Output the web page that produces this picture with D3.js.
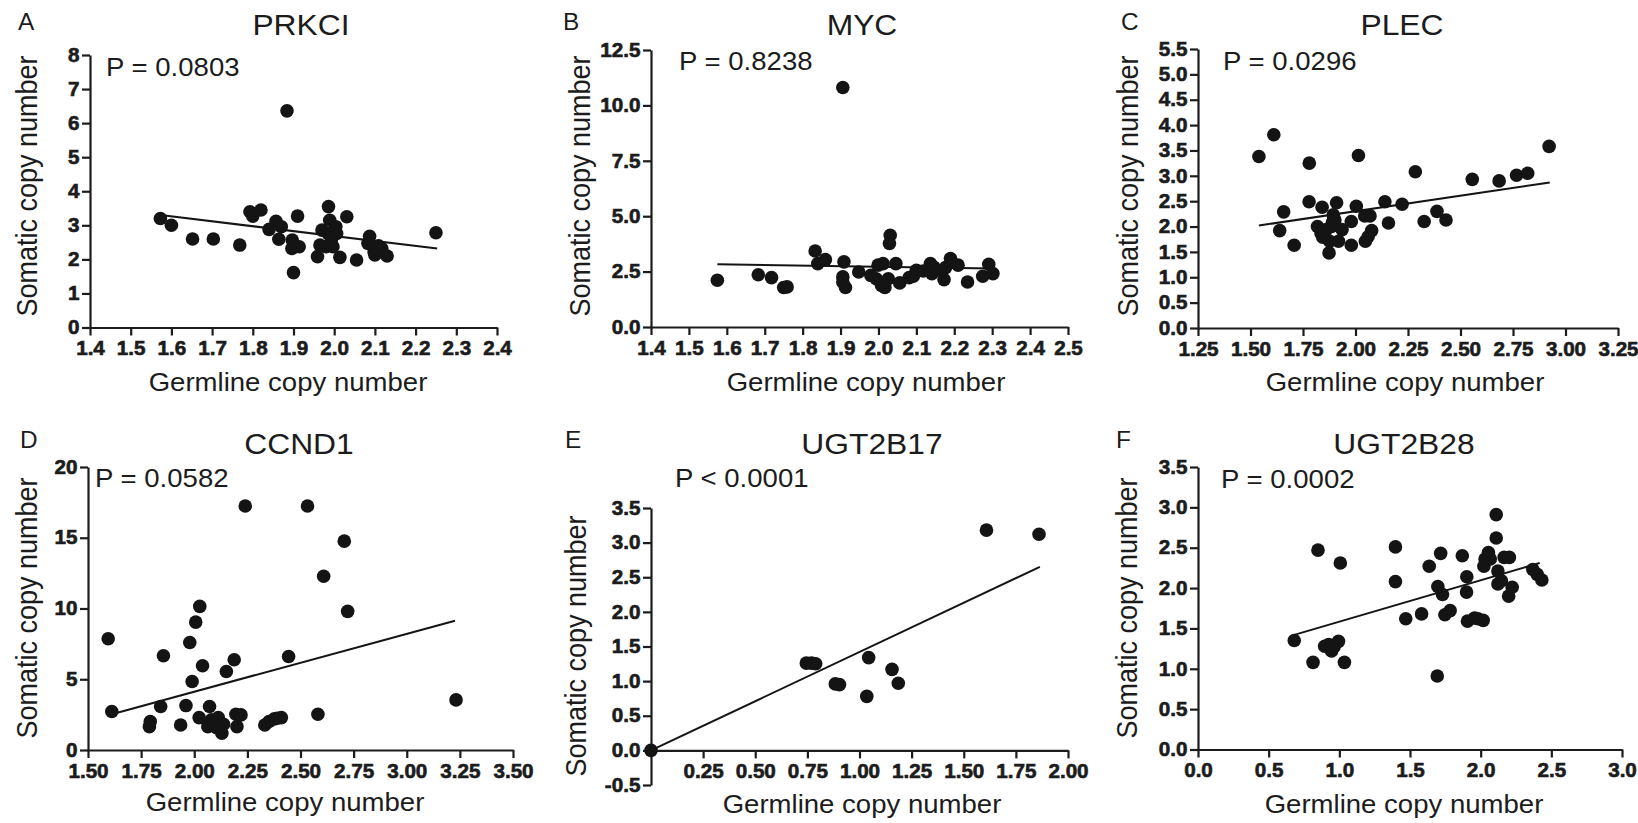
<!DOCTYPE html>
<html>
<head>
<meta charset="utf-8">
<title>Germline vs somatic copy number</title>
<script src="https://cdn.jsdelivr.net/npm/d3@7"></script>
<style>
  html, body { margin: 0; padding: 0; background: #ffffff; }
  svg { display: block; }
  text { font-family: "Liberation Sans", Arial, Helvetica, sans-serif; fill: #1c1c1c; }
  .domain, .tick line { stroke: #1c1c1c; stroke-width: 2.2px; }
</style>
</head>
<body>
<svg id="fig" width="1638" height="823"></svg>
<script>
// Gene panels: [germline copy number, somatic copy number] per sample
const prkci = [
  [1.573,3.20],[1.600,3.00],[1.652,2.60],[1.703,2.60],[1.768,2.42],[1.793,3.40],[1.800,3.27],[1.820,3.45],
  [1.840,2.88],[1.857,3.12],[1.870,2.96],[1.864,2.59],[1.884,6.36],[1.897,2.57],[1.896,2.32],[1.910,3.27],
  [1.914,2.37],[1.900,1.61],[1.959,2.08],[1.965,2.42],[1.970,2.86],[1.986,3.55],[1.989,3.15],[1.985,2.76],
  [1.997,2.37],[1.993,2.57],[2.006,2.76],[2.004,2.96],[2.014,2.06],[2.031,3.25],[2.055,1.98],[2.087,2.68],
  [2.083,2.47],[2.098,2.22],[2.117,2.32],[2.130,2.10],[2.250,2.78],[2.109,2.40],[1.980,2.37],[2.100,2.13]
];
const myc = [
  [1.575,2.11],[1.683,2.36],[1.718,2.23],[1.750,1.78],[1.759,1.81],[1.833,3.43],[1.840,2.86],[1.860,3.04],
  [1.909,2.94],[1.906,2.26],[1.906,2.03],[1.913,1.78],[1.906,10.81],[1.948,2.48],[1.980,2.33],[1.994,2.18],
  [1.999,2.79],[2.012,2.86],[2.008,1.88],[2.017,1.78],[2.026,2.18],[2.031,4.14],[2.029,3.77],[2.046,2.86],
  [2.056,1.99],[2.081,2.23],[2.092,2.29],[2.100,2.56],[2.118,2.53],[2.137,2.86],[2.141,2.41],[2.146,2.71],
  [2.173,2.14],[2.177,2.68],[2.190,3.09],[2.210,2.79],[2.235,2.03],[2.275,2.29],[2.291,2.83],[2.302,2.41],
  [2.155,2.56]
];
const plec = [
  [1.540,3.38],[1.611,3.81],[1.639,1.92],[1.658,2.29],[1.708,1.63],[1.780,3.25],[1.779,2.49],[1.819,2.00],
  [1.841,2.38],[1.836,1.87],[1.844,1.79],[1.861,1.94],[1.874,1.48],[1.877,1.71],[1.890,2.08],[1.902,2.13],
  [1.910,2.47],[1.919,1.71],[1.936,1.94],[1.980,1.63],[1.980,2.10],[2.004,2.40],[2.014,3.40],[2.044,2.21],
  [2.069,2.21],[2.047,1.71],[2.060,1.80],[2.077,1.92],[2.140,2.49],[2.157,2.07],[2.222,2.44],[2.285,3.08],
  [2.327,2.10],[2.388,2.30],[2.431,2.13],[2.556,2.93],[2.684,2.90],[2.767,3.01],[2.820,3.05],[2.922,3.58],
  [1.886,2.00],[1.894,2.23]
];
const ccnd1 = [
  [1.595,7.86],[1.612,2.72],[1.793,2.01],[1.789,1.65],[1.842,3.07],[1.855,6.66],[1.936,1.77],[1.961,3.14],
  [1.979,7.60],[1.990,4.84],[2.007,9.04],[2.026,10.15],[2.023,2.29],[2.039,5.95],[2.072,3.07],[2.064,1.65],
  [2.081,2.13],[2.092,1.89],[2.113,2.29],[2.122,1.65],[2.130,1.18],[2.138,1.82],[2.151,5.55],[2.188,6.38],
  [2.196,2.53],[2.201,1.65],[2.220,2.48],[2.240,17.24],[2.332,1.77],[2.352,2.01],[2.377,2.20],[2.410,2.29],
  [2.444,6.61],[2.533,17.24],[2.582,2.53],[2.609,12.28],[2.706,14.76],[2.722,9.80],[3.232,3.54],[2.105,1.58],
  [2.390,2.24]
];
const ugt2b17 = [
  [0.000,0.00],[0.745,1.26],[0.770,1.26],[0.790,1.25],[0.884,0.96],[0.904,0.95],[1.044,1.34],[1.035,0.78],
  [1.156,1.17],[1.186,0.97],[1.609,3.18],[1.861,3.12]
];
const ugt2b28 = [
  [0.681,1.35],[0.814,1.08],[0.849,2.47],[0.896,1.28],[0.925,1.30],[0.945,1.22],[0.962,1.27],[0.994,1.34],
  [1.007,2.31],[1.036,1.08],[1.397,2.51],[1.397,2.08],[1.470,1.62],[1.582,1.68],[1.636,2.27],[1.693,0.91],
  [1.697,2.02],[1.717,2.43],[1.730,1.92],[1.747,1.67],[1.784,1.72],[1.870,2.40],[1.902,2.14],[1.900,1.95],
  [1.907,1.59],[1.957,1.63],[1.981,1.62],[2.018,1.60],[2.023,2.27],[2.031,2.36],[2.055,2.44],[2.068,2.36],
  [2.110,2.91],[2.110,2.62],[2.122,2.21],[2.122,2.05],[2.147,2.09],[2.166,2.38],[2.203,2.38],[2.198,1.90],
  [2.223,2.01],[2.369,2.23],[2.400,2.17],[2.433,2.10]
];

// Linear fit end points [germline, somatic]
const prkciFit   = [[1.573,3.30],[2.253,2.32]];
const mycFit     = [[1.575,2.83],[2.300,2.64]];
const plecFit    = [[1.540,2.02],[2.925,2.87]];
const ccnd1Fit   = [[1.612,2.53],[3.227,9.14]];
const ugt2b17Fit = [[0.000,0.00],[1.865,2.65]];
const ugt2b28Fit = [[0.681,1.42],[2.418,2.31]];

// Tick values
const prkciXTicks   = [1.4,1.5,1.6,1.7,1.8,1.9,2.0,2.1,2.2,2.3,2.4];
const prkciYTicks   = [0,1,2,3,4,5,6,7,8];
const mycXTicks     = [1.4,1.5,1.6,1.7,1.8,1.9,2.0,2.1,2.2,2.3,2.4,2.5];
const mycYTicks     = [0,2.5,5,7.5,10,12.5];
const plecXTicks    = [1.25,1.5,1.75,2.0,2.25,2.5,2.75,3.0,3.25];
const plecYTicks    = [0,0.5,1,1.5,2,2.5,3,3.5,4,4.5,5,5.5];
const ccnd1XTicks   = [1.5,1.75,2.0,2.25,2.5,2.75,3.0,3.25,3.5];
const ccnd1YTicks   = [0,5,10,15,20];
const ugt2b17XTicks = [0.25,0.5,0.75,1.0,1.25,1.5,1.75,2.0];
const ugt2b17YTicks = [-0.5,0,0.5,1,1.5,2,2.5,3,3.5];
const ugt2b28XTicks = [0,0.5,1,1.5,2,2.5,3];
const ugt2b28YTicks = [0,0.5,1,1.5,2,2.5,3,3.5];

// Panel headings
const panelLetters = ["A","B","C","D","E","F"];
const geneNames    = ["PRKCI","MYC","PLEC","CCND1","UGT2B17","UGT2B28"];
const pValues      = ["P = 0.0803","P = 0.8238","P = 0.0296","P = 0.0582","P < 0.0001","P = 0.0002"];
const xAxisTitle   = "Germline copy number";
const yAxisTitle   = "Somatic copy number";

// Layout of each panel (pixel frame and text anchors)
const layout = [
  { xr:[90,497],    yr:[327.5,55], letter:[18,30],    title:[301,35],   p:[106,76],   ylab:[37,186],   xlab:[288,391] },
  { xr:[651,1068],  yr:[327,50],   letter:[563,30],   title:[862,35],   p:[679,70],   ylab:[590,186],  xlab:[866,391] },
  { xr:[1198,1618], yr:[328,49],   letter:[1121,30],  title:[1402,35],  p:[1223,70],  ylab:[1138,186], xlab:[1405,391] },
  { xr:[88,513],    yr:[750,467],  letter:[20,448],   title:[299,454],  p:[95,487],   ylab:[37,608],   xlab:[285,811] },
  { xr:[651,1068],  yr:[785,508],  letter:[565,448],  title:[872,454],  p:[675,487],  ylab:[586,646],  xlab:[862,813] },
  { xr:[1198,1622], yr:[749.5,467],letter:[1116,448], title:[1404,454], p:[1221,488], ylab:[1137,608], xlab:[1404,813] }
];

const panels = [
  { pts: prkci,   fit: prkciFit,   xt: prkciXTicks,   yt: prkciYTicks,   xd:[1.4,2.4],  yd:[0,8],      xf:".1f", yf:"d"   },
  { pts: myc,     fit: mycFit,     xt: mycXTicks,     yt: mycYTicks,     xd:[1.4,2.5],  yd:[0,12.5],   xf:".1f", yf:".1f" },
  { pts: plec,    fit: plecFit,    xt: plecXTicks,    yt: plecYTicks,    xd:[1.25,3.25],yd:[0,5.5],    xf:".2f", yf:".1f" },
  { pts: ccnd1,   fit: ccnd1Fit,   xt: ccnd1XTicks,   yt: ccnd1YTicks,   xd:[1.5,3.5],  yd:[0,20],     xf:".2f", yf:"d"   },
  { pts: ugt2b17, fit: ugt2b17Fit, xt: ugt2b17XTicks, yt: ugt2b17YTicks, xd:[0,2.0],    yd:[-0.5,3.5], xf:".2f", yf:".1f", xAxisAtZero:true },
  { pts: ugt2b28, fit: ugt2b28Fit, xt: ugt2b28XTicks, yt: ugt2b28YTicks, xd:[0,3.0],    yd:[0,3.5],    xf:".1f", yf:".1f" }
];

const svg = d3.select("#fig");
svg.append("rect").attr("width",1638).attr("height",823).attr("fill","#ffffff");

// Typeset with a slight horizontal widening
const SX = 1.06;
function label(g, x, y, str, size, anchor, rotate) {
  const tf = rotate
    ? `translate(${x},${y}) rotate(-90) scale(1,${SX})`
    : `translate(${x},${y}) scale(${SX},1)`;
  return g.append("text")
    .attr("transform", tf)
    .attr("text-anchor", anchor)
    .style("font-size", size + "px")
    .text(str);
}

const dash = s => s.replace("\u2212", "-");

function styleTicks(a) {
  a.attr("font-family", null).attr("font-size", null);
  a.selectAll(".tick text")
    .attr("transform", `scale(${SX},1)`)
    .attr("fill", "#1c1c1c")
    .style("font-family", "'Liberation Sans', Arial, sans-serif")
    .style("font-weight", "700")
    .style("font-size", "19.5px")
    .style("stroke", "#1c1c1c")
    .style("stroke-width", "0.6px");
}

panels.forEach((pn, i) => {
  const L = layout[i];
  const g = svg.append("g");
  const x = d3.scaleLinear().domain(pn.xd).range(L.xr);
  const y = d3.scaleLinear().domain(pn.yd).range(L.yr);
  const xBase = pn.xAxisAtZero ? y(0) : L.yr[0];

  // y axis
  g.append("g")
    .attr("transform", `translate(${L.xr[0]},0)`)
    .call(d3.axisLeft(y).tickValues(pn.yt).tickSize(8).tickSizeOuter(0).tickPadding(2)
      .tickFormat(v => dash(d3.format(pn.yf)(v))))
    .call(styleTicks);

  // x axis
  g.append("g")
    .attr("transform", `translate(0,${xBase})`)
    .call(d3.axisBottom(x).tickValues(pn.xt).tickSize(8).tickSizeOuter(0).tickPadding(6)
      .tickFormat(v => d3.format(pn.xf)(v)))
    .call(styleTicks);

  // samples
  g.append("g").selectAll("circle")
    .data(pn.pts)
    .join("circle")
    .attr("cx", d => x(d[0]))
    .attr("cy", d => y(d[1]))
    .attr("r", 6.8)
    .attr("fill", "#141414");

  // regression line
  g.append("path")
    .datum(pn.fit)
    .attr("fill", "none")
    .attr("stroke", "#141414")
    .attr("stroke-width", 2)
    .attr("d", d3.line().x(d => x(d[0])).y(d => y(d[1])));

  // text
  label(g, L.letter[0], L.letter[1], panelLetters[i], 23, "start");
  label(g, L.title[0], L.title[1], geneNames[i], 30, "middle");
  label(g, L.p[0], L.p[1], pValues[i], 26, "start");
  label(g, L.xlab[0], L.xlab[1], xAxisTitle, 26, "middle");
  label(g, L.ylab[0], L.ylab[1], yAxisTitle, 27, "middle", true);
});
</script>
</body>
</html>
